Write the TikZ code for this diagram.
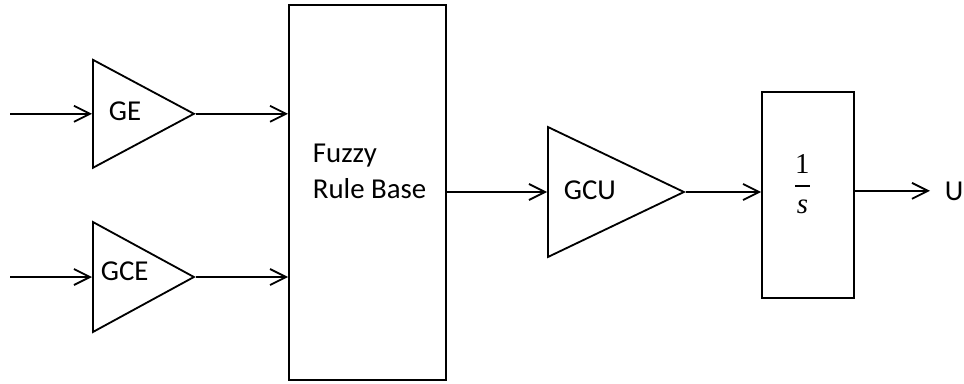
\documentclass[tikz,border=0pt]{standalone}
\usepackage{amsmath}
\usepackage{fontspec}
\setmainfont{Carlito}
\newfontfamily\fracfont{Liberation Serif}
\usetikzlibrary{positioning,arrows.meta,shapes.geometric}

\begin{document}
\begin{tikzpicture}[
    >={Straight Barb[length=4mm,width=4mm]},
    line width=1.3pt,
    every node/.style={font=\fontsize{20.5}{25.5}\selectfont},
    gain/.style={draw, isosceles triangle, isosceles triangle stretches,
      shape border rotate=0, inner sep=0pt, anchor=west},
    block/.style={draw, inner sep=0pt},
    txt/.style={inner sep=0pt, anchor=base west}
  ]
  \useasboundingbox (0,0) rectangle (24.1,9.575);

  % ingressi
  \coordinate (in1) at (0.25,6.73);
  \coordinate (in2) at (0.25,2.65);

  % guadagni di ingresso
  \node[gain, minimum height=2.525cm, minimum width=2.7cm] (ge) at (2.3,6.73) {};
  \node[txt] (getxt) at (2.7,6.55) {GE};
  \node[gain, minimum height=2.525cm, minimum width=2.75cm] (gce) at (2.3,2.65) {};
  \node[txt] (gcetxt) at (2.5,2.575) {GCE};

  % base di regole
  \node[block, minimum width=3.925cm, minimum height=9.375cm] (frb) at (9.1875,4.7625) {};
  \node[align=left, anchor=north west, inner sep=0pt] (frbtxt) at (7.8,6.0) {Fuzzy\\Rule Base};

  % guadagno di uscita e integratore
  \node[gain, minimum height=3.4cm, minimum width=3.25cm] (gcu) at (13.675,4.775) {};
  \node[txt] (gcutxt) at (14.075,4.6) {GCU};
  \node[block, minimum width=2.3cm, minimum height=5.15cm] (integ) at (20.2,4.7) {};
  \node[inner sep=0pt, anchor=base] (integtxt) at (20.06,4.74)
    {$\genfrac{}{}{1.2pt}{0}{\text{\fracfont 1}}{\text{\fracfont\itshape s}}$};
  \node[txt, inner xsep=0.35cm] (u) at (23.25,4.575) {U};

  % collegamenti
  \draw[->] (in1) -- (ge.west);
  \draw[->] (in2) -- (gce.west);
  \draw[->] (ge.east) -- (ge.east -| frb.west);
  \draw[->] (gce.east) -- (gce.east -| frb.west);
  \draw[->] (frb.east |- gcu.west) -- (gcu.west);
  \draw[->] (gcu.east) -- (gcu.east -| integ.west);
  \draw[->] (integ.east |- u.west) -- (u.west);

\end{tikzpicture}
\end{document}
